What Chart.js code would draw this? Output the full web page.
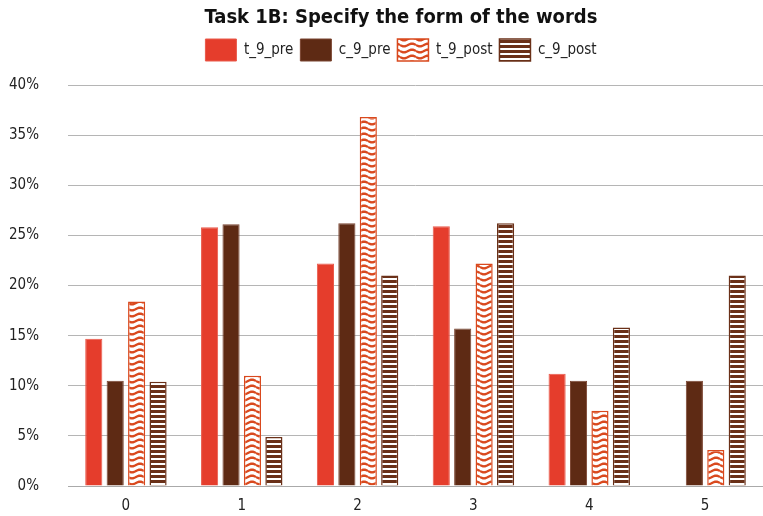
<!DOCTYPE html>
<html><head><meta charset="utf-8">
<script src="https://cdn.jsdelivr.net/npm/chart.js@4.4.1/dist/chart.umd.min.js"></script>
<style>html,body{margin:0;padding:0;background:#fff}canvas{display:block}</style>
</head><body>
<canvas id="c" width="763" height="516"></canvas>
<script>
const categories = ["0","1","2","3","4","5"];
const t9pre  = [14.7, 25.8, 22.2, 25.9, 11.2, 0];
const c9pre  = [10.5, 26.1, 26.2, 15.7, 10.5, 10.5];
const t9post = [18.4, 11.0, 36.8, 22.2, 7.5, 3.6];
const c9post = [10.4, 4.9, 21.0, 26.2, 15.8, 21.0];
const seriesNames = ["t_9_pre","c_9_pre","t_9_post","c_9_post"];
const yTicks = [0,5,10,15,20,25,30,35,40];

const FONT = '"Liberation Sans Narrow", "DejaVu Sans Condensed", "Roboto Condensed", sans-serif';
const RED = '#E53D2C', BROWN = '#5E2A14', ORANGE = '#D9491E', BROWN2 = '#6A3018';

function wavePattern(){
  const c = document.createElement('canvas'); c.width = 16; c.height = 6;
  const x = c.getContext('2d');
  x.fillStyle = '#fff'; x.fillRect(0,0,16,6);
  x.strokeStyle = ORANGE; x.lineWidth = 2.4;
  for (const off of [-6,0,6]) {
    x.beginPath();
    for (let i=0;i<=16;i++){ const yy = 3 + off + 1.4*Math.sin(i/16*2*Math.PI); if(i===0) x.moveTo(i,yy); else x.lineTo(i,yy); }
    x.stroke();
  }
  return x.createPattern(c,'repeat');
}
function stripePattern(){
  const c = document.createElement('canvas'); c.width = 4; c.height = 5;
  const x = c.getContext('2d');
  x.fillStyle = '#fff'; x.fillRect(0,0,4,5);
  x.fillStyle = BROWN2; x.fillRect(0,0,4,3);
  return x.createPattern(c,'repeat');
}

const legendSpace = {
  id: 'legendSpace',
  beforeInit(chart){
    const orig = chart.legend.fit;
    chart.legend.fit = function(){ orig.call(this); this.height += 14; };
  }
};

const ctx = document.getElementById('c').getContext('2d');
new Chart(ctx, {
  type: 'bar',
  plugins: [legendSpace],
  data: {
    labels: categories,
    datasets: [
      {label: seriesNames[0], data: t9pre, backgroundColor: RED, borderColor: '#EA5A4B', borderWidth: 1},
      {label: seriesNames[1], data: c9pre, backgroundColor: BROWN, borderColor: '#7A4430', borderWidth: 1},
      {label: seriesNames[2], data: t9post, backgroundColor: wavePattern(), borderColor: ORANGE, borderWidth: 1.5},
      {label: seriesNames[3], data: c9post, backgroundColor: stripePattern(), borderColor: BROWN2, borderWidth: 1.5}
    ]
  },
  options: {
    responsive: false,
    animation: false,
    layout: {padding: {left: 39, right: 0, top: 2, bottom: 0}},
    datasets: {bar: {categoryPercentage: 0.74, barPercentage: 0.8}},
    plugins: {
      title: {display: true, text: 'Task 1B: Specify the form of the words', color: '#111',
        font: {family: FONT, size: 20, weight: 'bold'}, padding: {top: 4, bottom: 2}},
      legend: {position: 'top', labels: {boxWidth: 31, boxHeight: 22, padding: 7, color: '#222',
        font: {family: FONT, size: 15}}},
      tooltip: {enabled: false}
    },
    scales: {
      x: {grid: {display: false, drawTicks: false, tickLength: 0}, border: {color: '#aaa'},
        afterFit: ax => { ax.height = 30; },
        ticks: {color: '#222', font: {family: FONT, size: 15}, padding: 11}},
      y: {min: 0, max: 40, afterBuildTicks: ax => { ax.ticks = yTicks.map(v => ({value: v})); },
        afterFit: ax => { ax.width = 29; ax.paddingTop = 0; ax.paddingBottom = 0; ax._computeLabelArea = () => undefined; },
        grid: {color: '#b5b5b5', drawTicks: false, tickLength: 0}, border: {display: false},
        ticks: {color: '#222', padding: 29, font: {family: FONT, size: 15}, callback: v => v + '%'}}
    }
  }
});
</script>
</body></html>
